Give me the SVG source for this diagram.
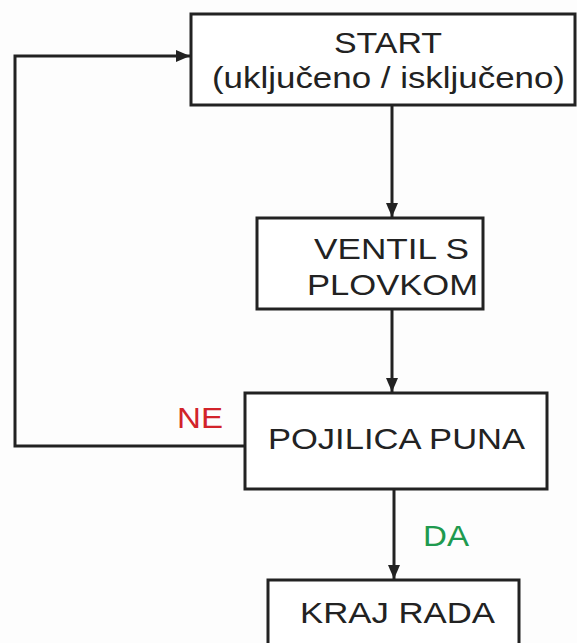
<svg xmlns="http://www.w3.org/2000/svg" width="577" height="643" viewBox="0 0 577 643">
<style>
.box{fill:#fff;stroke:#222;stroke-width:3}
.t{font-family:"Liberation Sans",Arial,sans-serif;font-size:30px;fill:#222}
.c{fill:none;stroke:#222;stroke-width:3}
</style>
<defs>
<marker id="ah" viewBox="0 0 14 12" refX="14" refY="6" markerWidth="14" markerHeight="12" markerUnits="userSpaceOnUse" orient="auto">
<path d="M0,0 L14,6 L0,12 z" fill="#222"/>
</marker>
</defs>
<rect width="577" height="643" fill="#fdfdfd"/>
<g id="connectors">
<path class="c" d="M392,105 V217" marker-end="url(#ah)"/>
<path class="c" d="M392,309 V392" marker-end="url(#ah)"/>
<path class="c" d="M394,489 V579" marker-end="url(#ah)"/>
<path class="c" d="M245,446 H15 V56 H190" marker-end="url(#ah)"/>
<text x="177" y="428" class="t" style="fill:#d2232a" textLength="46" lengthAdjust="spacingAndGlyphs">NE</text>
<text x="423" y="546" class="t" style="fill:#1f9a4f" textLength="46" lengthAdjust="spacingAndGlyphs">DA</text>
</g>
<g id="start">
<rect class="box" x="191" y="14" width="384" height="91"/>
<text x="334" y="53" class="t" textLength="108" lengthAdjust="spacingAndGlyphs">START</text>
<text x="212" y="88" class="t" textLength="353" lengthAdjust="spacingAndGlyphs">(uključeno / isključeno)</text>
</g>
<g id="ventil">
<rect class="box" x="257" y="218" width="226" height="91"/>
<text x="314" y="259" class="t" textLength="155" lengthAdjust="spacingAndGlyphs">VENTIL S</text>
<text x="307" y="295" class="t" textLength="171" lengthAdjust="spacingAndGlyphs">PLOVKOM</text>
</g>
<g id="pojilica">
<rect class="box" x="245" y="393" width="302" height="96"/>
<text x="268" y="449" class="t" textLength="257" lengthAdjust="spacingAndGlyphs">POJILICA PUNA</text>
</g>
<g id="kraj">
<rect class="box" x="268" y="580" width="251" height="80"/>
<text x="300" y="623" class="t" textLength="195" lengthAdjust="spacingAndGlyphs">KRAJ RADA</text>
</g>
</svg>
